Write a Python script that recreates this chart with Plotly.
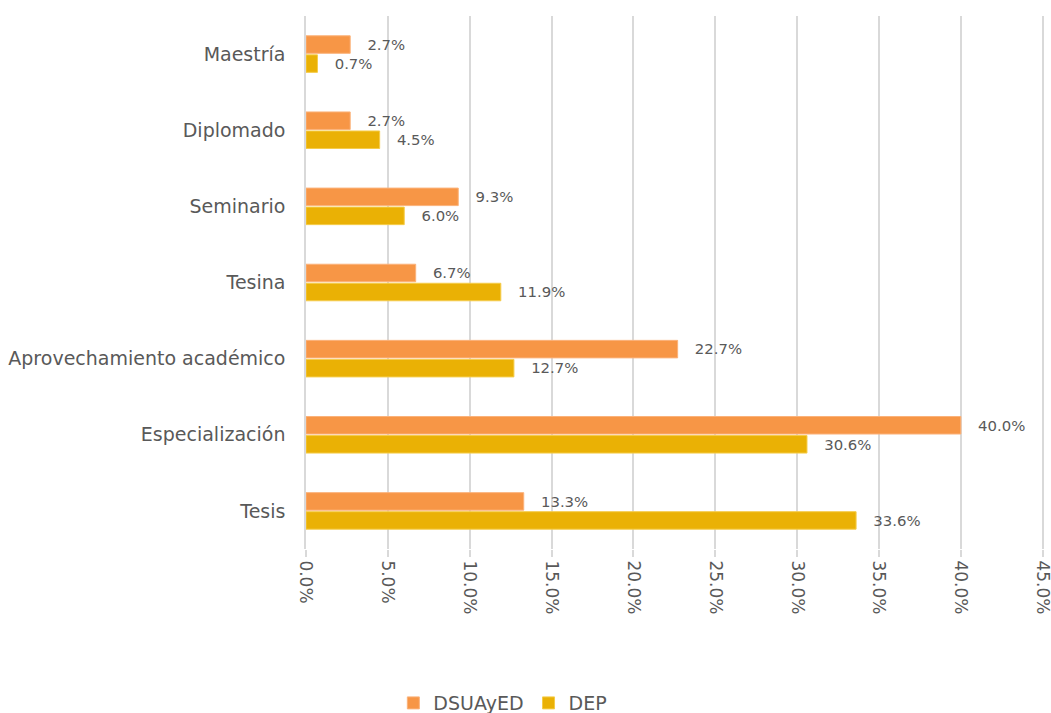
import plotly.graph_objects as go

categories = ["Maestría", "Diplomado", "Seminario", "Tesina",
              "Aprovechamiento académico", "Especialización", "Tesis"]
dsuayed = [2.7, 2.7, 9.3, 6.7, 22.7, 40.0, 13.3]
dep = [0.7, 4.5, 6.0, 11.9, 12.7, 30.6, 33.6]
tick_vals = [0, 5, 10, 15, 20, 25, 30, 35, 40, 45]

FONT = "'DejaVu Sans', sans-serif"
GREY = "#595959"
PAD = "\u00a0\u00a0\u00a0"

fig = go.Figure()
fig.add_trace(go.Bar(
    y=categories, x=dsuayed, orientation="h", name="DSUAyED",
    marker=dict(color="#F79646", line=dict(color="#FBB27A", width=1)),
    text=[f"{PAD}{v:.1f}%" for v in dsuayed], textposition="outside",
    textfont=dict(size=17, color=GREY, family=FONT), cliponaxis=False,
))
fig.add_trace(go.Bar(
    y=categories, x=dep, orientation="h", name="DEP",
    marker=dict(color="#EAB105", line=dict(color="#F5CC4A", width=1)),
    text=[f"{PAD}{v:.1f}%" for v in dep], textposition="outside",
    textfont=dict(size=17, color=GREY, family=FONT), cliponaxis=False,
))

fig.update_layout(
    width=1051, height=713,
    margin=dict(l=306, r=5, t=16, b=164, autoexpand=False),
    paper_bgcolor="white", plot_bgcolor="white",
    barmode="group", bargap=0.5, bargroupgap=0.08,
    font=dict(family=FONT, color=GREY, size=17),
    legend=dict(orientation="h", x=0.266, xanchor="center", y=-0.289, yanchor="middle",
                font=dict(size=19, color=GREY, family=FONT),
                itemwidth=30, tracegroupgap=0),
    xaxis=dict(range=[0, 45.2], tickvals=tick_vals,
               ticktext=[f"{v:.1f}%" for v in tick_vals],
               tickangle=90, showgrid=True, gridcolor="#D9D9D9", gridwidth=1.5,
               ticks="outside", ticklen=7, tickcolor="#D9D9D9", tickwidth=1.5,
               tickfont=dict(size=17, color=GREY, family=FONT),
               ticklabeloverflow="allow",
               zeroline=False, showline=False, automargin=False),
    yaxis=dict(autorange="reversed", showline=True, linecolor="#D9D9D9", linewidth=1.5,
               ticks="", ticklabelstandoff=15, automargin=False,
               tickfont=dict(size=19, color=GREY, family=FONT)),
)

fig.write_html(
    "out.html",
    config={"displayModeBar": False},
    post_script="document.body.style.margin='0';document.body.style.overflow='hidden';",
)
